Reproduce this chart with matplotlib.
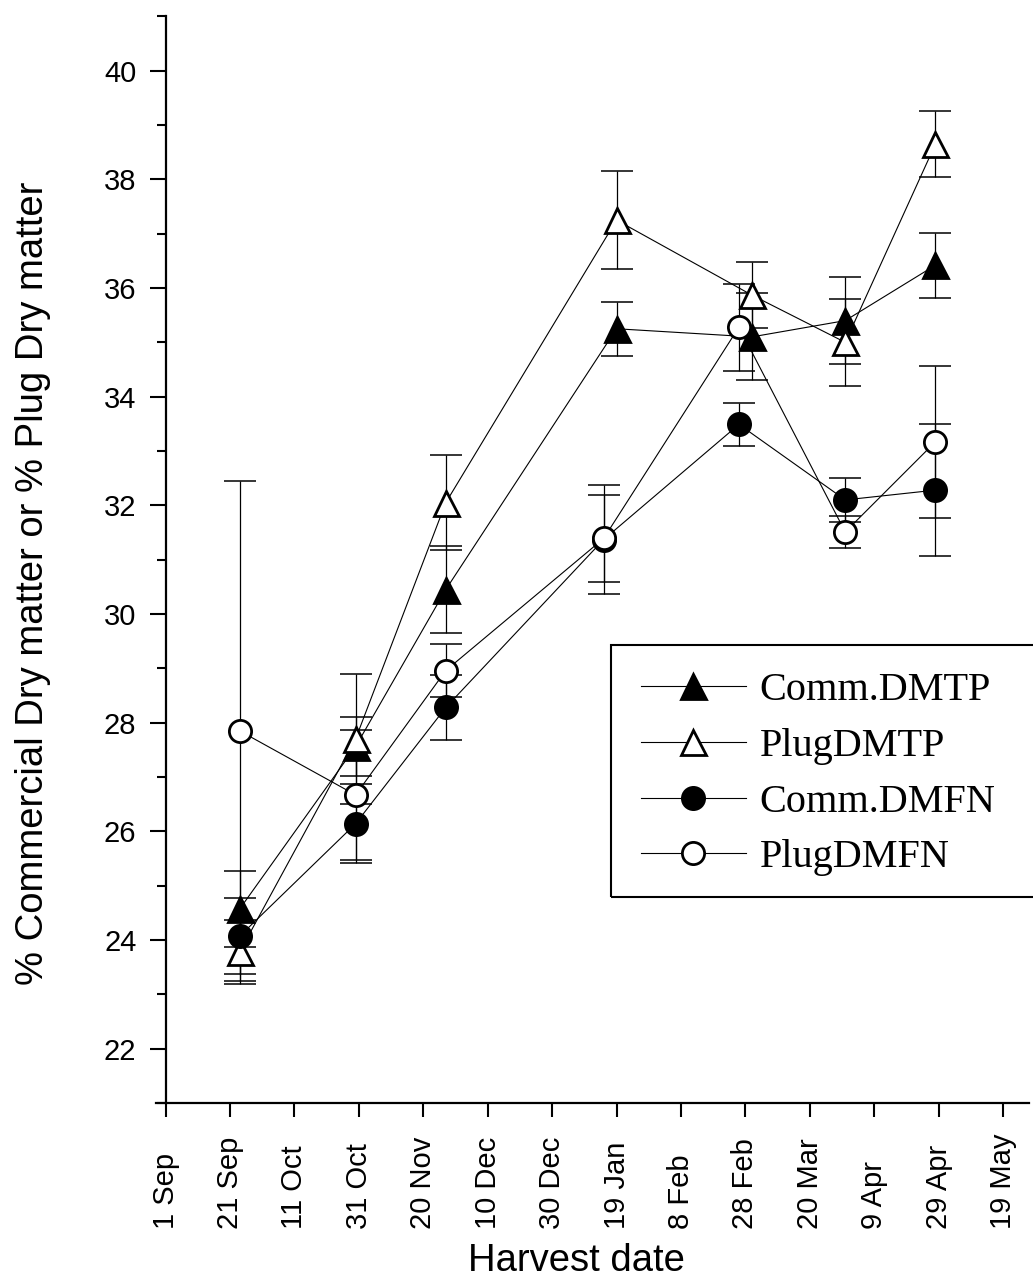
import matplotlib
matplotlib.use('Agg')
import matplotlib.pyplot as plt
from matplotlib.patches import Rectangle
from matplotlib.ticker import MultipleLocator

plt.rcParams['font.family'] = ['Liberation Sans', 'DejaVu Sans']

# days after 1 Sep
days_tp = [23, 59, 87, 140, 182, 211, 239]
days_fn = [23, 59, 87, 136, 178, 211, 239]

comm_dmtp = [24.57, 27.56, 30.45, 35.25, 35.10, 35.40, 36.42]
comm_dmtp_err = [0.70, 0.55, 0.80, 0.50, 0.80, 0.80, 0.60]
plug_dmtp = [23.78, 27.70, 32.05, 37.25, 35.87, 35.00, 38.65]
plug_dmtp_err = [0.59, 1.20, 0.88, 0.90, 0.60, 0.80, 0.60]
comm_dmfn = [24.07, 26.14, 28.28, 31.37, 33.49, 32.10, 32.28]
comm_dmfn_err = [0.70, 0.73, 0.60, 1.00, 0.40, 0.40, 1.21]
plug_dmfn = [27.85, 26.67, 28.96, 31.39, 35.28, 31.51, 33.17]
plug_dmfn_err = [4.60, 1.20, 0.48, 0.80, 0.80, 0.30, 1.40]

tick_days = [0, 20, 40, 60, 80, 100, 120, 140, 160, 180, 200, 220, 240, 260]
tick_labels = ['1 Sep', '21 Sep', '11 Oct', '31 Oct', '20 Nov', '10 Dec', '30 Dec',
               '19 Jan', '8 Feb', '28 Feb', '20 Mar', '9 Apr', '29 Apr', '19 May']

series = [
    (days_tp, comm_dmtp, comm_dmtp_err, '^', 'black', 'Comm.DMTP', 18),
    (days_tp, plug_dmtp, plug_dmtp_err, '^', 'white', 'PlugDMTP', 18),
    (days_fn, comm_dmfn, comm_dmfn_err, 'o', 'black', 'Comm.DMFN', 16),
    (days_fn, plug_dmfn, plug_dmfn_err, 'o', 'white', 'PlugDMFN', 16),
]

fig = plt.figure(figsize=(10.33, 12.84), dpi=100)
ax = fig.add_axes([0.1509, 0.14097, 0.8451, 0.8463])

handles = []
for x, y, err, m, face, label, ms in series:
    ax.errorbar(x, y, yerr=err, fmt='none', ecolor='black', elinewidth=0.9,
                capsize=11.5, capthick=1.1, zorder=2)
    line, = ax.plot(x, y, color='black', lw=0.8, marker=m, ms=ms,
                    mfc=face, mec='black', mew=2.0, label=label, zorder=3)
    handles.append(line)

ax.set_xlim(-3, 268)
ax.set_ylim(21, 41)
ax.spines['left'].set_position(('data', 0))
for s in ['top', 'right']:
    ax.spines[s].set_visible(False)
for s in ['left', 'bottom']:
    ax.spines[s].set_linewidth(1.6)

ax.set_yticks(range(22, 41, 2))
ax.yaxis.set_minor_locator(MultipleLocator(1))
ax.tick_params(axis='y', which='major', length=11.5, width=1.5, labelsize=21, pad=9.5)
ax.tick_params(axis='y', which='minor', length=6.5, width=1.5)
ax.set_xticks(tick_days)
# date labels start at a common baseline and read upwards
ax.set_xticklabels(tick_labels, rotation=90, rotation_mode='anchor',
                   ha='left', va='center')
ax.tick_params(axis='x', which='major', length=10, width=1.5, labelsize=21, pad=80.5)

fig.text(576 / 1033, 1 - 1271 / 1284, 'Harvest date', fontsize=27.5,
         ha='center', va='baseline')
fig.text(43 / 1033, 1 - 583.5 / 1284, '% Commercial Dry matter or % Plug Dry matter',
         fontsize=27.5, rotation=90, rotation_mode='anchor', ha='center', va='baseline')

# legend box runs off the right edge like the original
fig.add_artist(Rectangle((611 / 1033, 1 - 897 / 1284), 0.5, (897 - 645) / 1284,
                         transform=fig.transFigure, fill=False, lw=1.5,
                         ec='black', clip_on=False))
ax.legend(handles=handles, loc='upper left', bbox_to_anchor=(641 / 1033, 1 - 672 / 1284),
          bbox_transform=fig.transFigure, frameon=False,
          prop={'family': 'Liberation Serif', 'size': 29},
          handlelength=2.6, handletextpad=0.35, labelspacing=0.46,
          borderpad=0, borderaxespad=0)

fig.savefig('out.png', dpi=100)
